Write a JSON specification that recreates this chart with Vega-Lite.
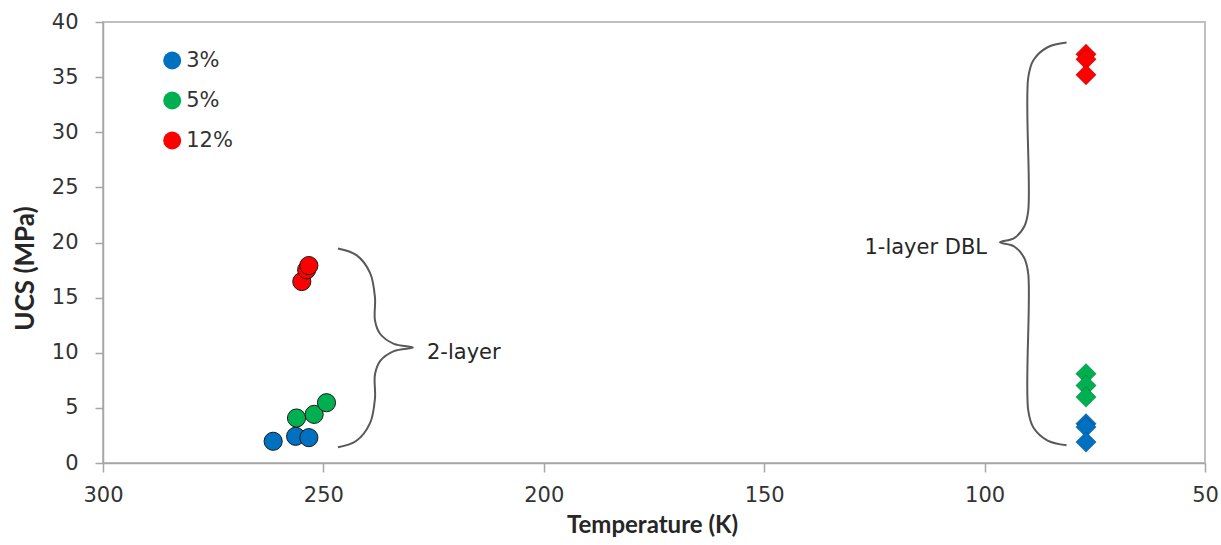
{
  "$schema": "https://vega.github.io/schema/vega-lite/v6.json",
  "width": 1102,
  "height": 441,
  "autosize": {"type": "none"},
  "padding": {"left": 103, "top": 22, "right": 16, "bottom": 82},
  "background": "white",
  "config": {
    "view": {"stroke": "#bfbfbf", "strokeWidth": 2},
    "font": "DejaVu Sans"
  },
  "datasets": {
    "points": [
      {"T": 261.4, "UCS": 1.97, "series": "3%", "type": "2-layer"},
      {"T": 256.3, "UCS": 2.42, "series": "3%", "type": "2-layer"},
      {"T": 253.3, "UCS": 2.30, "series": "3%", "type": "2-layer"},
      {"T": 256.1, "UCS": 4.08, "series": "5%", "type": "2-layer"},
      {"T": 252.1, "UCS": 4.41, "series": "5%", "type": "2-layer"},
      {"T": 249.3, "UCS": 5.47, "series": "5%", "type": "2-layer"},
      {"T": 254.9, "UCS": 16.46, "series": "12%", "type": "2-layer"},
      {"T": 253.8, "UCS": 17.52, "series": "12%", "type": "2-layer"},
      {"T": 253.3, "UCS": 17.91, "series": "12%", "type": "2-layer"},
      {"T": 77, "UCS": 3.57, "series": "3%", "type": "1-layer DBL"},
      {"T": 77, "UCS": 3.26, "series": "3%", "type": "1-layer DBL"},
      {"T": 77, "UCS": 1.90, "series": "3%", "type": "1-layer DBL"},
      {"T": 77, "UCS": 8.10, "series": "5%", "type": "1-layer DBL"},
      {"T": 77, "UCS": 7.04, "series": "5%", "type": "1-layer DBL"},
      {"T": 77, "UCS": 5.98, "series": "5%", "type": "1-layer DBL"},
      {"T": 77, "UCS": 37.08, "series": "12%", "type": "1-layer DBL"},
      {"T": 77, "UCS": 36.63, "series": "12%", "type": "1-layer DBL"},
      {"T": 77, "UCS": 35.21, "series": "12%", "type": "1-layer DBL"}
    ],
    "braces": [
      {"brace": "2-layer", "i": 1, "T": 246.7, "UCS": 19.45},
      {"brace": "2-layer", "i": 2, "T": 242.5, "UCS": 18.85},
      {"brace": "2-layer", "i": 3, "T": 239.4, "UCS": 17.23},
      {"brace": "2-layer", "i": 4, "T": 238.3, "UCS": 15.01},
      {"brace": "2-layer", "i": 5, "T": 238.3, "UCS": 12.93},
      {"brace": "2-layer", "i": 6, "T": 237.1, "UCS": 11.70},
      {"brace": "2-layer", "i": 7, "T": 234.0, "UCS": 10.81},
      {"brace": "2-layer", "i": 8, "T": 229.7, "UCS": 10.48},
      {"brace": "2-layer", "i": 9, "T": 234.0, "UCS": 10.15},
      {"brace": "2-layer", "i": 10, "T": 237.1, "UCS": 9.26},
      {"brace": "2-layer", "i": 11, "T": 238.3, "UCS": 8.03},
      {"brace": "2-layer", "i": 12, "T": 238.3, "UCS": 5.86},
      {"brace": "2-layer", "i": 13, "T": 239.4, "UCS": 3.64},
      {"brace": "2-layer", "i": 14, "T": 242.5, "UCS": 2.02},
      {"brace": "2-layer", "i": 15, "T": 246.7, "UCS": 1.42},
      {"brace": "DBL", "i": 1, "T": 81.4, "UCS": 38.13},
      {"brace": "DBL", "i": 2, "T": 85.7, "UCS": 37.71},
      {"brace": "DBL", "i": 3, "T": 88.9, "UCS": 36.55},
      {"brace": "DBL", "i": 4, "T": 90.1, "UCS": 34.96},
      {"brace": "DBL", "i": 5, "T": 90.1, "UCS": 22.89},
      {"brace": "DBL", "i": 6, "T": 91.0, "UCS": 21.45},
      {"brace": "DBL", "i": 7, "T": 93.3, "UCS": 20.40},
      {"brace": "DBL", "i": 8, "T": 96.5, "UCS": 20.02},
      {"brace": "DBL", "i": 9, "T": 93.3, "UCS": 19.64},
      {"brace": "DBL", "i": 10, "T": 91.0, "UCS": 18.59},
      {"brace": "DBL", "i": 11, "T": 90.1, "UCS": 17.15},
      {"brace": "DBL", "i": 12, "T": 90.1, "UCS": 4.77},
      {"brace": "DBL", "i": 13, "T": 88.9, "UCS": 3.19},
      {"brace": "DBL", "i": 14, "T": 85.7, "UCS": 2.03},
      {"brace": "DBL", "i": 15, "T": 81.4, "UCS": 1.60}
    ],
    "labelsLeft": [
      {"T": 226.5, "UCS": 9.96, "label": "2-layer"}
    ],
    "labelsRight": [
      {"T": 99.45, "UCS": 19.54, "label": "1-layer DBL"}
    ],
    "minor": [
      {"T": 290}, {"T": 280}, {"T": 270}, {"T": 260},
      {"T": 240}, {"T": 230}, {"T": 220}, {"T": 210},
      {"T": 190}, {"T": 180}, {"T": 170}, {"T": 160},
      {"T": 140}, {"T": 130}, {"T": 120}, {"T": 110},
      {"T": 90}, {"T": 80}, {"T": 70}, {"T": 60}
    ]
  },
  "encoding": {
    "x": {
      "field": "T",
      "type": "quantitative",
      "scale": {"domain": [50, 300], "reverse": true, "nice": false, "zero": false},
      "axis": {
        "title": "Temperature (K)",
        "values": [300, 250, 200, 150, 100, 50],
        "grid": false,
        "labelFlush": false,
        "domainColor": "#a6a6a6",
        "domainWidth": 1.5,
        "tickColor": "#a6a6a6",
        "tickWidth": 1.5,
        "tickSize": 9,
        "labelFont": "DejaVu Sans",
        "labelFontSize": 21,
        "labelColor": "#333333",
        "labelPadding": 12,
        "titleFont": "Lato",
        "titleFontSize": 24,
        "titleFontWeight": "bold",
        "titleColor": "#262626",
        "titleX": 549,
        "titleY": 62,
        "titleBaseline": "middle"
      }
    },
    "y": {
      "field": "UCS",
      "type": "quantitative",
      "scale": {"domain": [0, 40], "nice": false},
      "axis": {
        "title": "UCS (MPa)",
        "values": [0, 5, 10, 15, 20, 25, 30, 35, 40],
        "grid": false,
        "labelFlush": false,
        "domainColor": "#a6a6a6",
        "domainWidth": 1.5,
        "tickColor": "#a6a6a6",
        "tickWidth": 1.5,
        "tickSize": 8,
        "labelFont": "DejaVu Sans",
        "labelFontSize": 21,
        "labelColor": "#333333",
        "labelPadding": 17,
        "titleFont": "Lato",
        "titleFontSize": 26,
        "titleFontWeight": "bold",
        "titleColor": "#262626",
        "titleX": -78,
        "titleY": 246,
        "titleBaseline": "middle"
      }
    }
  },
  "layer": [
    {
      "data": {"name": "minor"},
      "mark": {"type": "rule", "color": "#a6a6a6", "strokeWidth": 1.5},
      "encoding": {"y": {"datum": 0}, "y2": {"datum": 0.55}}
    },
    {
      "data": {"name": "braces"},
      "mark": {"type": "line", "interpolate": "catmull-rom", "color": "#595959", "strokeWidth": 2},
      "encoding": {
        "detail": {"field": "brace"},
        "order": {"field": "i", "type": "quantitative"}
      }
    },
    {
      "data": {"name": "labelsLeft"},
      "mark": {"type": "text", "font": "DejaVu Sans", "fontSize": 21, "color": "#262626", "baseline": "middle", "align": "left"},
      "encoding": {"text": {"field": "label"}}
    },
    {
      "data": {"name": "labelsRight"},
      "mark": {"type": "text", "font": "DejaVu Sans", "fontSize": 21, "color": "#262626", "baseline": "middle", "align": "right"},
      "encoding": {"text": {"field": "label"}}
    },
    {
      "data": {"name": "points"},
      "transform": [{"filter": "datum.type === '2-layer'"}],
      "mark": {"type": "point", "shape": "circle", "filled": true, "size": 330, "stroke": "#1a1a1a", "strokeWidth": 1, "opacity": 1},
      "encoding": {
        "fill": {
          "field": "series",
          "type": "nominal",
          "scale": {"domain": ["3%", "5%", "12%"], "range": ["#0070C0", "#00B050", "#FF0000"]},
          "legend": {
            "title": null,
            "orient": "none",
            "legendX": 58.7,
            "legendY": 28,
            "padding": 0,
            "symbolType": "circle",
            "symbolSize": 324,
            "symbolStrokeWidth": 0,
            "labelFont": "DejaVu Sans",
            "labelFontSize": 21,
            "labelColor": "#333333",
            "labelOffset": 3.5,
            "rowPadding": 18
          }
        }
      }
    },
    {
      "data": {"name": "points"},
      "transform": [{"filter": "datum.type === '1-layer DBL'"}],
      "mark": {"type": "point", "shape": "diamond", "filled": true, "size": 420, "stroke": "#000000", "strokeOpacity": 0.2, "strokeWidth": 1, "opacity": 1},
      "encoding": {
        "fill": {"field": "series", "type": "nominal"}
      }
    }
  ]
}
